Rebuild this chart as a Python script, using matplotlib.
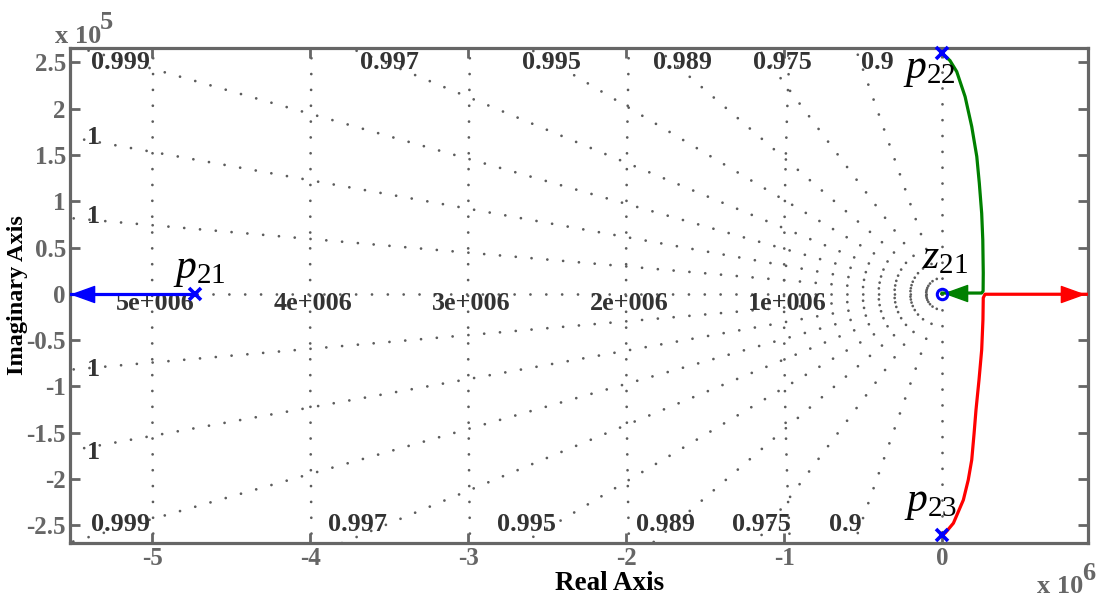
import numpy as np
import matplotlib
matplotlib.use("Agg")
import matplotlib.pyplot as plt
from matplotlib.path import Path

# ---------------- data ----------------
x_ticks = [-5e6, -4e6, -3e6, -2e6, -1e6, 0]
x_tick_labels = ["-5", "-4", "-3", "-2", "-1", "0"]
y_ticks = [-2.5e5, -2e5, -1.5e5, -1e5, -0.5e5, 0, 0.5e5, 1e5, 1.5e5, 2e5, 2.5e5]
y_tick_labels = ["-2.5", "-2", "-1.5", "-1", "-0.5", "0", "0.5", "1", "1.5", "2", "2.5"]

# damping-ratio grid rays and their labels
zeta = [0.99989, 0.99953, 0.99882, 0.99750, 0.99490, 0.98940, 0.97500, 0.90]
zeta_labels = ["1", "1", "0.999", "0.997", "0.995", "0.989", "0.975", "0.9"]
# natural-frequency grid circles
wn = [1e6, 2e6, 3e6, 4e6, 5e6]
wn_labels = ["1e+006", "2e+006", "3e+006", "4e+006", "5e+006"]

# poles and zero
pole_re = [-4.73e6, 0.0, 0.0]
pole_im = [0.0, 2.60e5, -2.60e5]
zero_re = [0.0]
zero_im = [0.0]

# root-locus branches
blue_re = [-4.73e6, -5.52e6]
blue_im = [0.0, 0.0]
green_re = [0.0, 0.008e6, 0.050e6, 0.093e6, 0.146e6, 0.188e6, 0.220e6, 0.236e6,
            0.251e6, 0.258e6, 0.261e6, 0.260e6, 0.250e6, 0.0]
green_im = [2.60e5, 2.585e5, 2.52e5, 2.40e5, 2.13e5, 1.807e5, 1.483e5, 1.195e5,
            0.871e5, 0.583e5, 0.227e5, 0.03e5, 0.009e5, 0.009e5]
red_re = [0.0, 0.019e6, 0.072e6, 0.135e6, 0.166e6, 0.188e6, 0.203e6, 0.215e6,
          0.234e6, 0.251e6, 0.259e6, 0.261e6, 0.272e6, 0.95e6]
red_im = [-2.60e5, -2.584e5, -2.476e5, -2.225e5, -2.009e5, -1.793e5, -1.505e5, -1.253e5,
          -0.93e5, -0.605e5, -0.28e5, -0.043e5, -0.004e5, -0.004e5]
# arrow heads (centres) on the branches
arrow_re = [-5.437e6, 0.089e6, 0.82e6]
arrow_im = [0.0, 0.009e5, -0.004e5]
arrow_dir = ["left", "left", "right"]
arrow_col = ["#0000ff", "#008000", "#ff0000"]

# ---------------- style ----------------
plt.rcParams["font.family"] = ["Liberation Serif", "DejaVu Serif"]
plt.rcParams["mathtext.fontset"] = "custom"
plt.rcParams["mathtext.rm"] = "Liberation Serif"
plt.rcParams["mathtext.it"] = "Liberation Serif:italic"
plt.rcParams["mathtext.bf"] = "Liberation Serif:bold"
plt.rcParams["lines.scale_dashes"] = False

W, H = 1104, 596
fig = plt.figure(figsize=(W / 100, H / 100), dpi=100)
ax = fig.add_axes([70 / W, 1 - 543 / H, (1088 - 70) / W, (543 - 48) / H])

xmin, xmax = -5.52e6, 0.924e6
ymin, ymax = -2.69e5, 2.655e5
ax.set_xlim(xmin, xmax)
ax.set_ylim(ymin, ymax)

grid_col = "0.36"
dot = dict(color=grid_col, lw=2.0, linestyle=(0, (0.01, 11.4)),
           dash_capstyle="round", zorder=1)

# rays (damping lines) starting at the origin
R = 8e6
for z in zeta:
    t = np.sqrt(1 - z ** 2) / z
    for s in (1, -1):
        ax.plot([0, -R], [0, s * t * R], **dot)
ax.plot([0, -R], [0, 0], **dot)          # zeta = 1
ax.plot([0, 0], [0, R], **dot)           # zeta = 0 (upper)
ax.plot([0, 0], [0, -R], **dot)          # zeta = 0 (lower)

# natural frequency semicircles
th = np.linspace(-np.pi / 2, np.pi / 2, 4000)
for w in wn:
    ax.plot(-w * np.cos(th), w * np.sin(th), **dot)

# grid labels
lab_kw = dict(fontsize=18.8, fontweight="bold", color="#333333",
              ha="center", va="center", zorder=2)
top_pos = [None, None, -5.20e6, -3.50e6, -2.47e6, -1.64e6, -1.01e6, -0.41e6]
bot_pos = [None, None, -5.20e6, -3.70e6, -2.63e6, -1.75e6, -1.14e6, -0.61e6]
for lab, xt, xb in zip(zeta_labels, top_pos, bot_pos):
    if xt is not None:
        ax.text(xt, 2.50e5, lab, **lab_kw)
        ax.text(xb, -2.49e5, lab, **lab_kw)
left_y = [[0.84e5, -0.82e5], [1.69e5, -1.71e5]]
for lab, ys in zip(zeta_labels[:2], left_y):
    for yy in ys:
        ax.text(-5.37e6, yy, lab, **lab_kw)
for w, lab in zip(wn, wn_labels):
    ax.text(-w + 0.02e6, -0.10e5, lab, **lab_kw)

# branches
ax.plot(blue_re, blue_im, color="#0000ff", lw=2.3, zorder=3)
ax.plot(green_re, green_im, color="#008000", lw=2.3, zorder=3)
ax.plot(red_re, red_im, color="#ff0000", lw=2.3, zorder=3)

left_tri = Path([(-1, 0), (1, 0.72), (1, -0.72), (-1, 0)],
                [Path.MOVETO, Path.LINETO, Path.LINETO, Path.CLOSEPOLY])
right_tri = Path([(1, 0), (-1, 0.72), (-1, -0.72), (1, 0)],
                 [Path.MOVETO, Path.LINETO, Path.LINETO, Path.CLOSEPOLY])
for xr, yi, d, c in zip(arrow_re, arrow_im, arrow_dir, arrow_col):
    ax.plot([xr], [yi], marker=left_tri if d == "left" else right_tri,
            ms=16, color=c, mec=c, ls="none", zorder=4, clip_on=False)

# poles and zero
ax.plot(pole_re, pole_im, ls="none", marker="x", ms=9, mew=2.6,
        color="#0000ff", zorder=5, clip_on=False)
ax.plot(zero_re, zero_im, ls="none", marker="o", ms=7.5, mew=2.2,
        mfc="none", mec="#0000ff", zorder=5)

# pole/zero names
nm = dict(fontsize=30, color="black", ha="left", va="baseline", zorder=6)
ax.text(-4.87e6, 0.17e5, r"$p_{\mathit{21}}$", **nm)
ax.text(-0.125e6, 0.28e5, r"$z_{\mathit{21}}$", **nm)
ax.text(-0.245e6, 2.33e5, r"$p_{\mathit{22}}$", **nm)
ax.text(-0.240e6, -2.34e5, r"$p_{\mathit{23}}$", **nm)

# axes styling
spine_col = "0.4"
for sp in ax.spines.values():
    sp.set_color(spine_col)
    sp.set_linewidth(2.3)
ax.set_xticks(x_ticks)
ax.set_xticklabels(x_tick_labels)
ax.set_yticks(y_ticks)
ax.set_yticklabels(y_tick_labels)
ax.tick_params(direction="in", length=7, width=2, color=spine_col,
               top=True, right=True, labelsize=18, labelcolor="0.4")
ax.tick_params(axis="y", pad=3)
ax.tick_params(axis="x", pad=3)
for lbl in ax.get_xticklabels() + ax.get_yticklabels():
    lbl.set_fontweight("bold")

ax.set_xlabel("Real Axis", fontsize=19.5, fontweight="bold", color="black")
ax.set_ylabel("Imaginary Axis", fontsize=17.5, fontweight="bold", color="black")
ax.xaxis.set_label_coords((610 - 70) / 1018, -(590 - 543) / 495, transform=ax.transAxes)
ax.xaxis.label.set_va("baseline")
ax.yaxis.set_label_coords(-(70 - 23) / 1018, 0.5, transform=ax.transAxes)
ax.yaxis.label.set_va("baseline")

# exponent labels
ex = dict(fontweight="bold", color="0.4", ha="left", va="baseline")
fig.text(55 / W, 1 - 43 / H, "x 10", fontsize=19, **ex)
fig.text(100 / W, 1 - 29 / H, "5", fontsize=19, **ex)
fig.text(1037 / W, 1 - 593 / H, "x 10", fontsize=19, **ex)
fig.text(1082 / W, 1 - 580 / H, "6", fontsize=19, **ex)

fig.savefig("out.png", dpi=100, facecolor="white")
